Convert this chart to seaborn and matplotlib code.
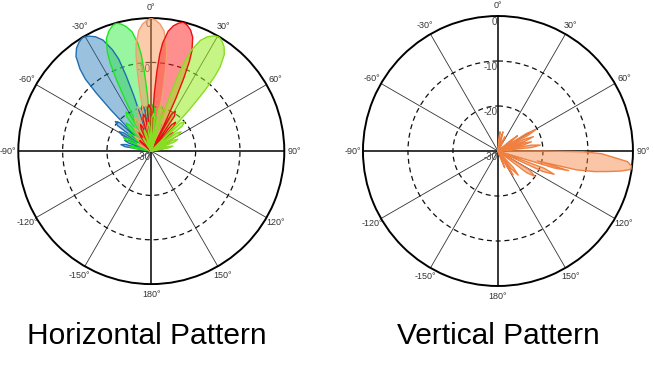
import numpy as np
import matplotlib
matplotlib.use("Agg")
import matplotlib.pyplot as plt
import seaborn as sns

sns.set_theme(style="white")
plt.rcParams["font.family"] = ["Liberation Sans", "DejaVu Sans"]
plt.rcParams["text.color"] = "black"

# ---- horizontal pattern: 5 steered beams (angle in deg, gain in dB) ----
blue_ang = [-90, -83, -80.5, -78, -75.5, -73, -70.5, -68, -65.5, -63.5, -61.5, -59, -56.5, -55,
            -53, -50.5, -48, -46.5, -45.5, -44.5, -43.5, -42.5, -41, -38.5, -36, -33.5,
            -31, -28.5, -26, -23.5, -21, -19.5, -18.5, -17.5, -16.5, -15.5, -14, -11.5,
            -9, -7, -5.5, -3, -0.5, 1.5, 3.5, 6, 8.5, 11, 14.5, 17, 19.5, 23, 27.5, 30, 32.5, 37, 90]
blue_db = [-30, -30, -24, -23, -24, -30, -24.5, -23.5, -24.5, -30, -22.5, -21.5, -22.5, -30,
           -20.5, -19.5, -20.5, -30, -23, -17, -12, -8, -5.5, -2.7, -1.3, -0.5,
           0, -0.5, -1.3, -2.7, -5.5, -8, -12, -17, -23, -30, -20.5, -19.5,
           -20.5, -30, -22.5, -21.5, -22.5, -30, -24.5, -23.5, -24.5, -30, -26, -25, -26, -30,
           -27.5, -26.5, -27.5, -30, -30]

green_ang = [-90, -83, -80.5, -78, -75.5, -69, -66.5, -64, -61.5, -57, -54.5, -52, -49.5, -46.5,
             -44.5, -42, -39.5, -37.5, -35.5, -33, -30.5, -29, -28, -27, -26, -25, -23.9, -21.8,
             -19.5, -17.5, -15.5, -13.5, -11.5, -9.2, -7.1, -6, -5, -4, -3, -2, -0.5, 2, 4.5,
             6.5, 8.5, 11, 13.5, 15.5, 18.5, 21, 23.5, 26.5, 30.5, 33, 35.5, 39, 43.5, 46, 48.5, 52, 90]
green_db = [-30, -30, -26, -25, -26, -30, -24, -23, -24, -30, -24.5, -23.5, -24.5, -30,
            -22.5, -21.5, -22.5, -30, -20.5, -19.5, -20.5, -30, -23, -17, -12, -8, -5.5, -2.7,
            -1.3, -0.5, 0, -0.5, -1.3, -2.7, -5.5, -8, -12, -17, -23, -30, -20.5, -19.5, -20.5,
            -30, -22.5, -21.5, -22.5, -30, -24.5, -23.5, -24.5, -30, -26, -25, -26, -30, -27.5, -26.5, -27.5, -30, -30]

peach_ang = [-90, -70, -64.5, -62, -59.5, -55, -50.5, -48, -45.5, -42, -38.5, -36, -33.5, -31,
             -28.5, -26, -23.5, -21.5, -19.5, -17, -14.5, -13, -12, -11, -10, -9, -8, -6, -4, -2,
             0, 2, 4, 6, 8, 9, 10, 11, 12, 13, 14.5, 17, 19.5, 21.5, 23.5, 26, 28.5, 31,
             33.5, 36, 38.5, 42, 45.5, 48, 50.5, 55, 59.5, 62, 64.5, 70, 90]
peach_db = [-30, -30, -27.5, -26.5, -27.5, -30, -26, -25, -26, -30, -24.5, -23.5, -24.5, -30,
            -22.5, -21.5, -22.5, -30, -20.5, -19.5, -20.5, -30, -23, -17, -12, -8, -5.5, -2.7, -1.3, -0.5,
            0, -0.5, -1.3, -2.7, -5.5, -8, -12, -17, -23, -30, -20.5, -19.5, -20.5, -30, -22.5, -21.5, -22.5, -30,
            -24.5, -23.5, -24.5, -30, -26, -25, -26, -30, -27.5, -26.5, -27.5, -30, -30]

red_ang = [-90, -55, -50.5, -48, -45.5, -41, -36.5, -34, -31.5, -28, -24.5, -22, -19.5, -17,
           -14.5, -12, -9.5, -7.5, -5.5, -3, -0.5, 1, 2, 3, 4, 5, 6, 8, 10, 12,
           14, 16, 18, 20, 22, 23, 24, 25, 26, 27, 28.5, 31, 33.5, 35.5, 37.5, 40, 42.5, 45,
           47.5, 50, 52.5, 56, 59.5, 62, 64.5, 69, 73.5, 76, 78.5, 83, 90]
red_db = [-30, -30, -27.5, -26.5, -27.5, -30, -26, -25, -26, -30, -24.5, -23.5, -24.5, -30,
          -22.5, -21.5, -22.5, -30, -20.5, -19.5, -20.5, -30, -23, -17, -12, -8, -5.5, -2.7, -1.3, -0.5,
          0, -0.5, -1.3, -2.7, -5.5, -8, -12, -17, -23, -30, -20.5, -19.5, -20.5, -30, -22.5, -21.5, -22.5, -30,
          -24.5, -23.5, -24.5, -30, -26, -25, -26, -30, -27.5, -26.5, -27.5, -30, -30]

lime_ang = [-90, -39, -34.5, -32, -29.5, -25, -20.5, -18, -15.5, -12, -8.5, -6, -3.5, -1,
            1, 3.5, 6, 8, 10, 12.5, 15, 16.5, 17.5, 18.5, 19.5, 20.6, 21.7, 23.9, 26.1, 28.3,
            30.5, 32.7, 34.9, 37.1, 39.3, 40.4, 41.5, 42.5, 43.5, 44.5, 46, 48.5, 51, 53,
            54.5, 57, 59.5, 61.5, 63.5, 66, 68.5, 71, 74.5, 77, 79.5, 84, 90]
lime_db = [-30, -30, -27.5, -26.5, -27.5, -30, -26, -25, -26, -30, -24.5, -23.5, -24.5, -30,
           -22.5, -21.5, -22.5, -30, -20.5, -19.5, -20.5, -30, -23, -17, -12, -8, -5.5, -2.7, -1.3, -0.5,
           0, -0.5, -1.3, -2.7, -5.5, -8, -12, -17, -23, -30, -21, -20, -21, -30,
           -23, -22, -23, -30, -24.5, -23.5, -24.5, -30, -26, -25, -26, -30, -30]

# ---- vertical pattern ----
vert_ang = [0, 4, 6, 8, 11, 12.5, 14.5, 16.5, 20, 24, 26, 28, 33, 50, 52, 54, 56, 58.5, 60.5,
            62.5, 64.5, 66, 68, 70, 72, 73, 74.6, 76.5, 78.5, 80, 82, 84, 86.5, 89.5, 90, 90.5,
            91.5, 93, 94.7, 96.7, 97.8, 99.2, 100.5, 102, 103.5, 104.2, 105.5, 106.8, 108.5,
            110.5, 112.5, 114.5, 117, 121, 124.4, 127, 131, 137, 140, 143, 145, 146, 148, 150,
            153, 156, 158, 160, 163, 180]
vert_db = [-30, -27.5, -25.7, -27.5, -30, -27.5, -25.6, -27.5, -30, -28, -26.5, -28, -30, -26.5, -24.5, -26.5, -30, -22.5, -20.3,
           -22.5, -30, -23.5, -21.5, -23.5, -30, -24, -22.3, -24, -30, -22.5, -20.5, -22.5, -30, -30, -20, -11,
           -7, -4.5, -1.1, 0, -0.1, -2.2, -5, -8, -12, -21, -13.7, -17, -30,
           -19, -16.5, -19, -30, -22, -20, -22, -30, -25, -23, -25, -30, -26, -23.7, -26,
           -30, -28, -26, -28, -30, -30]

theta_ticks = list(range(0, 360, 30))
theta_labels = ["0°", "30°", "60°", "90°", "120°", "150°", "180°",
                "-150°", "-120°", "-90°", "-60°", "-30°"]
r_ticks = [0, -10, -20, -30]
r_labels = ["0", "-10", "-20", "-30"]


def setup(ax):
    ax.set_theta_zero_location("N")
    ax.set_theta_direction(-1)
    ax.set_thetagrids(theta_ticks, theta_labels, fontsize=6.5, color="#333333")
    ax.tick_params(axis="x", size=0, pad=0.5)
    ax.set_rlim(-30, 0)
    ax.set_rticks([-20, -10])
    ax.set_yticklabels([])
    ax.set_axisbelow(True)
    ax.xaxis.grid(True, color="#333333", lw=0.6, ls="-")
    ax.yaxis.grid(True, color="#111111", lw=0.9, ls=(0, (4, 3)))
    for i, gl in enumerate(ax.xaxis.get_gridlines()):
        if i % 3 == 0:
            gl.set_linewidth(1.1)
            gl.set_color("black")
    ax.spines["polar"].set_linewidth(1.4)
    ax.spines["polar"].set_color("black")
    for r, lab in zip(r_ticks, r_labels):
        ax.annotate(lab, xy=(0, r), xytext=(-0.5, -1), textcoords="offset points",
                    ha="right", va="top", fontsize=7, color="#444444", zorder=1.5)


def draw_beam(ax, ang, db, line, face, alpha):
    th = np.deg2rad(ang)
    ax.fill(th, db, color=face, alpha=alpha, lw=0, zorder=2)
    sns.lineplot(x=th, y=db, sort=False, estimator=None, color=line, lw=1.0, ax=ax, zorder=3)


fig = plt.figure(figsize=(6.54, 3.68), dpi=100)
ax1 = fig.add_axes([0.028, 0.228, 0.4067, 0.7228], projection="polar")
ax2 = fig.add_axes([0.555, 0.2228, 0.4128, 0.7337], projection="polar")

draw_beam(ax1, blue_ang, blue_db, "#1f6fb0", "#1f77b4", 0.45)
draw_beam(ax1, green_ang, green_db, "#1ee61e", "#33ee44", 0.5)
draw_beam(ax1, peach_ang, peach_db, "#f0a070", "#f89858", 0.5)
draw_beam(ax1, red_ang, red_db, "#e81010", "#ff2020", 0.5)
draw_beam(ax1, lime_ang, lime_db, "#88dd22", "#99ee22", 0.55)

draw_beam(ax2, vert_ang, vert_db, "#f08040", "#f5823c", 0.45)

for ax in (ax1, ax2):
    setup(ax)
    ax.set_xlabel("")
    ax.set_ylabel("")

fig.text(147 / 654, 0.087, "Horizontal Pattern", ha="center", va="center", fontsize=21.5)
fig.text(498 / 654, 0.087, "Vertical Pattern", ha="center", va="center", fontsize=21.5)

fig.savefig("out.png", dpi=100)
